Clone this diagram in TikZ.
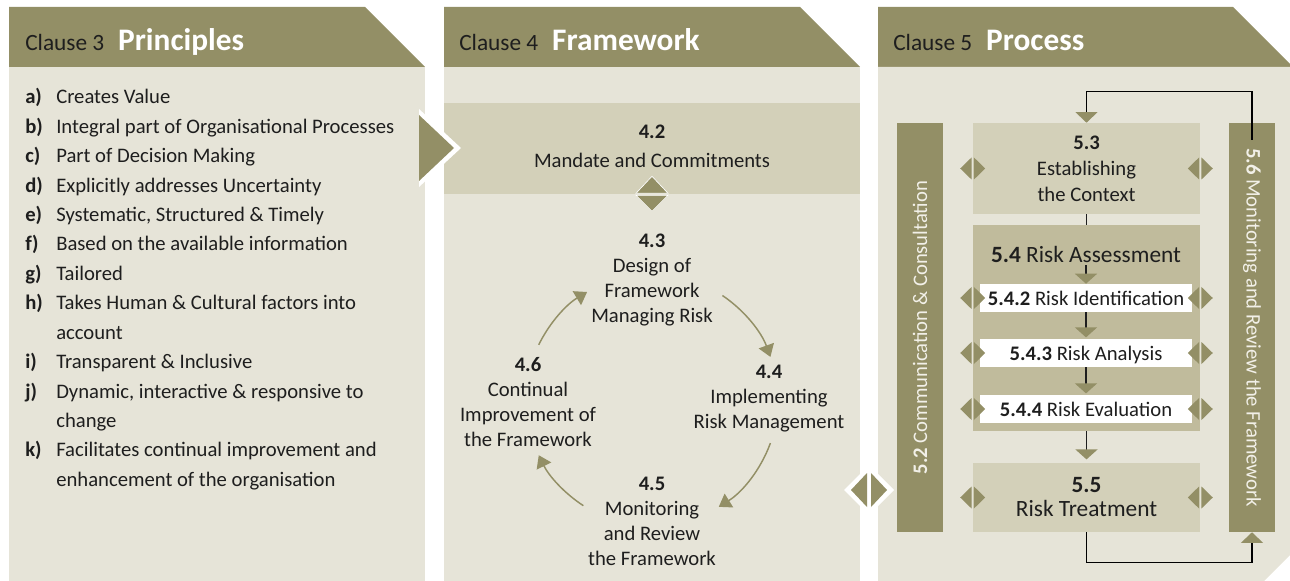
\documentclass[tikz,border=0pt]{standalone}
\usepackage{fontspec}
\setmainfont{Carlito}
\usepackage{xcolor}
\usetikzlibrary{arrows.meta,calc}

\definecolor{olivehead}{HTML}{938F66}
\definecolor{panelbg}{HTML}{E6E4D8}
\definecolor{bandbg}{HTML}{D3D0B9}
\definecolor{assessbg}{HTML}{C0BB9C}
\definecolor{inkdark}{HTML}{1E1E1E}
\definecolor{barink}{HTML}{F2F0E8}

\tikzset{
  txt/.style={font=\fontsize{15.5}{19}\selectfont, text=inkdark, inner sep=0pt},
  itemlab/.style={txt, anchor=base west, font=\fontsize{15.5}{19}\selectfont\bfseries},
  itemtxt/.style={txt, anchor=base west},
  clause/.style={font=\fontsize{17.5}{20}\selectfont, text=inkdark, inner sep=0pt, anchor=base west},
  clausebig/.style={font=\fontsize{23.5}{26}\selectfont\bfseries, text=white, inner sep=0pt, anchor=base west},
  stage/.style={txt, align=center, font=\fontsize{15.5}{18.75}\selectfont},
  box/.style={fill=bandbg, inner sep=0pt, minimum width=170.25pt, align=center},
  whitebox/.style={fill=white, inner sep=0pt, minimum width=159pt, minimum height=21pt, txt,
    text height=11.5pt, text depth=0pt},
  bar/.style={fill=olivehead, inner sep=0pt, minimum width=34.5pt, minimum height=306.75pt},
  bartxt/.style={font=\fontsize{15.5}{19}\selectfont, text=barink, inner sep=0pt},
  cyclearrow/.style={draw=olivehead, line width=1.1pt, -{Triangle[length=9pt,width=12pt]}},
  plainline/.style={draw=inkdark, line width=1.1pt},
  flow/.style={plainline, -{Triangle[length=7.5pt,width=16.5pt,color=olivehead]}},
  loopline/.style={draw=black, line width=1.1pt, -{Triangle[length=8pt,width=16.5pt,color=olivehead]}},
  pics/lrpair/.style={code={
    \fill[olivehead] (-1.2,-11) -- (-12.5,0) -- (-1.2,11) -- cycle;
    \fill[olivehead] (1.2,-11) -- (12.5,0) -- (1.2,11) -- cycle;
  }},
  pics/udpair/.style={code={
    \filldraw[fill=olivehead, draw=white, line width=0.5pt] (-16,-1) -- (0,-18) -- (16,-1) -- cycle;
    \filldraw[fill=olivehead, draw=white, line width=0.5pt] (-16,1) -- (0,17) -- (16,1) -- cycle;
  }},
  pics/bigpair/.style={code={
    \fill[white] (-25,0) -- (0,-25) -- (25,0) -- (0,25) -- cycle;
    \fill[olivehead] (-2,-17) -- (-18,0) -- (-2,17) -- cycle;
    \fill[olivehead] (2,-17) -- (18,0) -- (2,17) -- cycle;
  }}
}

\begin{document}
\begin{tikzpicture}[x=0.75pt,y=-0.75pt]
  \useasboundingbox (0,0) rectangle (1290,581);

  % the three panels, header with cut corner
  \fill[olivehead] (9,7) -- (365,7) -- (425,67) -- (9,67) -- cycle;
  \fill[panelbg] (9,67) rectangle (425,581);
  \fill[olivehead] (444,7) -- (800,7) -- (860,67) -- (444,67) -- cycle;
  \fill[panelbg] (444,67) rectangle (860,581);
  \fill[olivehead] (878,7) -- (1233,7) -- (1290,64) -- (1290,67) -- (878,67) -- cycle;
  \fill[panelbg] (878,67) -- (1290,67) -- (1290,555) -- (1264,581) -- (878,581) -- cycle;

  \node[clause] (c3) at (25,51) {Clause 3};
  \node[clausebig] (h3) at ([xshift=10pt]c3.base east) {Principles};
  \node[clause] (c4) at (459,51) {Clause 4};
  \node[clausebig] (h4) at ([xshift=10pt]c4.base east) {Framework};
  \node[clause] (c5) at (893,51) {Clause 5};
  \node[clausebig] (h5) at ([xshift=10pt]c5.base east) {Process};

  % principles list
  \foreach \lab/\txt/\n in {a/Creates Value/0, b/Integral part of Organisational Processes/1,
      c/Part of Decision Making/2, d/Explicitly addresses Uncertainty/3,
      e/{Systematic, Structured \& Timely}/4, f/Based on the available information/5,
      g/Tailored/6, h/Takes Human \& Cultural factors into/7, i/Transparent \& Inclusive/9,
      j/{Dynamic, interactive \& responsive to}/10, k/Facilitates continual improvement and/12}{
    \node[itemlab] (lab\lab) at (25,{104+29.4*\n}) {\lab)};
    \node[itemtxt] (txt\lab) at (56,{104+29.4*\n}) {\txt};
  }
  \node[itemtxt] (txth2) at (56,{104+29.4*8}) {account};
  \node[itemtxt] (txtj2) at (56,{104+29.4*11}) {change};
  \node[itemtxt] (txtk2) at (56,{104+29.4*13}) {enhancement of the organisation};

  % framework
  \node[fill=bandbg, inner sep=0pt, minimum width=312pt, minimum height=68.25pt] (band42) at (652,148.5) {};
  \node[stage, font=\fontsize{15.5}{21.75}\selectfont] (n42) at (652,146.5) {\textbf{4.2}\\Mandate and Commitments};
  \fill[white] (419,109) -- (461,148) -- (419,187) -- cycle;
  \fill[olivehead] (419,115) -- (454,148) -- (419,181) -- cycle;
  \pic at (band42.south) {udpair};

  \node[stage] (n43) at (652,280) {\textbf{4.3}\\Design of\\Framework\\Managing Risk};
  \node[stage] (n44) at (769,399) {\textbf{4.4}\\Implementing\\Risk Management};
  \node[stage] (n45) at (652,521) {\textbf{4.5}\\Monitoring\\and Review\\the Framework};
  \node[stage] (n46) at (528,402) {\textbf{4.6}\\Continual\\Improvement of\\the Framework};

  \coordinate (hub) at (652,400);
  \draw[cyclearrow] ([shift={(-56:126)}]hub) arc[start angle=-56, end angle=-20, radius=126];
  \draw[cyclearrow] ([shift={(20:126)}]hub) arc[start angle=20, end angle=58, radius=126];
  \draw[cyclearrow] ([shift={(123:126)}]hub) arc[start angle=123, end angle=154, radius=126];
  \draw[cyclearrow] ([shift={(206:126)}]hub) arc[start angle=206, end angle=239, radius=126];

  % process
  \node[bar] (b52) at (920,327.5) {};
  \node[bar] (b56) at (1252,327.5) {};
  \node[bartxt, rotate=90] (t52) at (b52.center) {\textbf{5.2} Communication \& Consultation};
  \node[bartxt, rotate=-90] (t56) at (b56.center) {\textbf{5.6} Monitoring and Review the Framework};

  \node[box, minimum height=68.25pt, stage, font=\fontsize{15.5}{19.5}\selectfont] (n53) at (1086.5,168.5)
    {\textbf{5.3}\\Establishing\\the Context};
  \node[box, fill=assessbg, minimum height=154.5pt] (n54) at (1086.5,328) {};
  \node[txt, font=\fontsize{17.5}{20}\selectfont] (t54) at (1086,254) {\textbf{5.4} Risk Assessment};
  \node[whitebox] (n542) at (1086,298) {\textbf{5.4.2} Risk Identification};
  \node[whitebox] (n543) at (1086,353) {\textbf{5.4.3} Risk Analysis};
  \node[whitebox] (n544) at (1086,409) {\textbf{5.4.4} Risk Evaluation};
  \node[box, minimum height=51.75pt, stage, font=\fontsize{17.5}{18}\selectfont] (n55) at (1086.5,497.5)
    {\textbf{5.5}\\Risk Treatment};

  \draw[plainline] (n53.south) -- (n54.north);
  \draw[flow] ([yshift=-2pt]t54.south) -- (n542.north);
  \draw[flow, shorten >=1pt] (n542.south) -- (n543.north);
  \draw[flow, shorten >=1pt] (n543.south) -- (n544.north);
  \draw[flow, shorten >=2.5pt] (n54.south) -- (n55.north);

  \draw[loopline] ($(b56.north)+(0,17)$) -- ++(0,-48) -| (n53.north);
  \draw[loopline] (n55.south) -- ++(0,30) -| (b56.south);

  \foreach \row in {n53,n542,n543,n544,n55}{
    \pic at (n54.west |- \row) {lrpair};
    \pic at (n54.east |- \row) {lrpair};
  }

  \pic at (869,490) {bigpair};
\end{tikzpicture}
\end{document}
